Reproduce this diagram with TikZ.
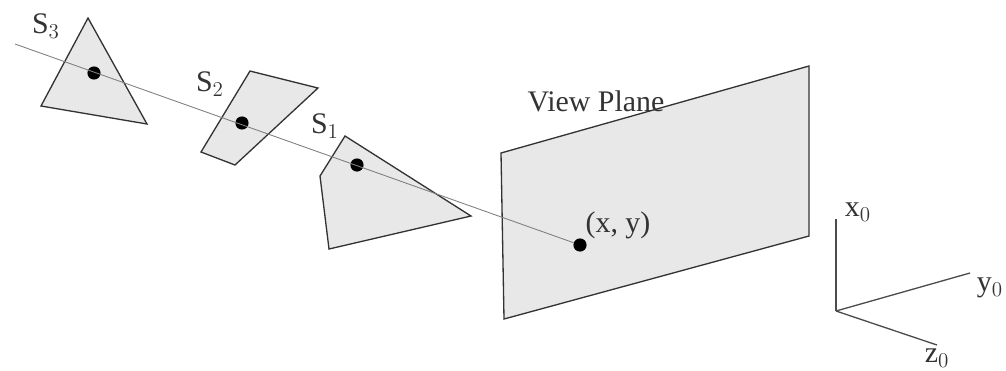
\documentclass[tikz,border=0pt]{standalone}
\usepackage{fontspec}
\setmainfont{Liberation Serif}
\tikzset{
  surface/.style={draw=black!80, fill=black!9, line width=0.75pt, line join=miter},
  sample/.style={circle, fill=black, inner sep=0pt, minimum width=7.5pt, minimum height=6.8pt},
  ray/.style={draw=black!50, line width=0.5pt},
  axisline/.style={draw=black!70, line width=0.75pt},
  tag/.style={font=\fontsize{17}{20}\selectfont, text=black!80, inner sep=0pt}
}
\begin{document}
\begin{tikzpicture}[x=0.02cm, y=-0.02cm]
\useasboundingbox (0,0) rectangle (1006,370);
\draw[surface] (88,18) -- (41,106) -- (147,124) -- cycle;
\draw[surface] (250,71) -- (318,88) -- (235,165) -- (201,152) -- cycle;
\draw[surface] (345,136) -- (471,216) -- (329,249) -- (320,176) -- cycle;
\draw[surface] (501,153) -- (809,66) -- (809,236) -- (504,319) -- cycle;
\coordinate (rayend) at (15,44);
\node[sample] (dot3) at (94,73) {};
\node[sample] (dot2) at (242,123) {};
\node[sample] (dot1) at (357,165) {};
\node[sample] (dot0) at (580,245) {};
\draw[ray] (rayend) -- (dot0);
\node[tag] (s3) at (46,26) {S$_3$};
\node[tag] (s2) at (210,84) {S$_2$};
\node[tag] (s1) at (325,126) {S$_1$};
\node[tag] (plane) at (596,101) {View Plane};
\node[tag] (point) at (618,225) {(x, y)};
% axes
\coordinate (origin) at (836,311);
\coordinate (xend) at (836,219);
\coordinate (yend) at (970,273);
\coordinate (zend) at (937,345);
\draw[axisline] (origin) -- (xend);
\draw[axisline] (origin) -- (yend);
\draw[axisline] (origin) -- (zend);
\node[tag] (xlabel) at (858,212) {x$_0$};
\node[tag] (ylabel) at (990,288) {y$_0$};
\node[tag] (zlabel) at (937,358) {z$_0$};
\end{tikzpicture}
\end{document}
